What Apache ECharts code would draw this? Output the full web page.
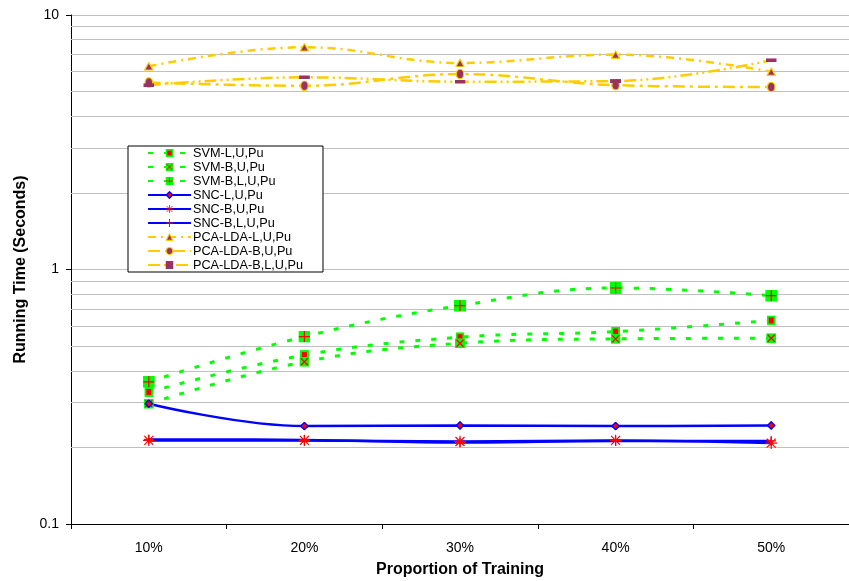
<!DOCTYPE html>
<html>
<head>
<meta charset="utf-8">
<script src="https://cdn.jsdelivr.net/npm/echarts@6/dist/echarts.min.js"></script>
<style>
  html, body { margin: 0; padding: 0; background: #fff; }
  #main { width: 849px; height: 581px; }
</style>
</head>
<body>
<div id="main"></div>
<script>
// data
const categories = ['10%', '20%', '30%', '40%', '50%']
const svmLUPu = [0.330, 0.461, 0.542, 0.570, 0.631]
const svmBUPu = [0.297, 0.434, 0.513, 0.534, 0.537]
const svmBLUPu = [0.362, 0.545, 0.721, 0.846, 0.789]
const sncLUPu = [0.297, 0.2425, 0.244, 0.2425, 0.244]
const sncBUPu = [0.213, 0.213, 0.211, 0.213, 0.208]
const sncBLUPu = [0.215, 0.214, 0.209, 0.212, 0.212]
const pcaLUPu = [6.29, 7.47, 6.48, 6.99, 5.99]
const pcaBUPu = [5.43, 5.27, 5.86, 5.30, 5.21]
const pcaBLUPu = [5.30, 5.69, 5.47, 5.50, 6.64]
// minor gridlines (Excel log axis)
const minorGrid = [0.2, 0.3, 0.4, 0.5, 0.6, 0.7, 0.8, 0.9, 2, 3, 4, 5, 6, 7, 8, 9]

const GREEN = '#00ff00'
const BLUE = '#0000ff'
const GOLD = '#ffcc00'
const PURPLE = '#993366'
const RED = '#ff0000'

function svgSym(w, h, body) {
  const s = '<svg xmlns="http://www.w3.org/2000/svg" width="' + w + '" height="' + h +
    '" viewBox="0 0 ' + w + ' ' + h + '">' + body + '</svg>'
  return 'image://data:image/svg+xml;charset=utf-8,' + encodeURIComponent(s)
}
const symSvmL = svgSym(9, 10, '<rect x="0" y="0" width="9" height="10" fill="' + GREEN + '"/><rect x="2" y="2" width="5" height="6" fill="' + RED + '"/>')
const symSvmB = svgSym(10, 10, '<rect x="0" y="0" width="10" height="10" fill="' + GREEN + '"/><path d="M1.5 1.5L8.5 8.5M8.5 1.5L1.5 8.5" stroke="' + RED + '" stroke-width="1.2"/>')
const symSvmBL = svgSym(12, 12, '<rect x="0" y="0" width="12" height="12" fill="' + GREEN + '"/><path d="M6 0.5V11.5M0.5 6H11.5" stroke="' + RED + '" stroke-width="1.2"/>')
const symSncL = svgSym(9, 9, '<path d="M4.5 0.8L8.2 4.5L4.5 8.2L0.8 4.5Z" fill="' + RED + '" stroke="' + BLUE + '" stroke-width="1.4"/>')
const symSncB = svgSym(12, 12, '<path d="M6 0V12M0 6H12M1.5 1.5L10.5 10.5M10.5 1.5L1.5 10.5" stroke="' + RED + '" stroke-width="1.2"/>')
const symSncBL = svgSym(10, 10, '<path d="M5 0V10M0 5H10" stroke="' + RED + '" stroke-width="1.2"/>')
const symPcaL = svgSym(10, 9, '<path d="M5 0.8L9.2 8.3H0.8Z" fill="' + PURPLE + '" stroke="' + GOLD + '" stroke-width="1.2"/>')
const symPcaB = svgSym(9, 11, '<ellipse cx="4.5" cy="5.5" rx="3.8" ry="4.8" fill="' + PURPLE + '" stroke="' + GOLD + '" stroke-width="1.2"/>')
const symPcaBL = svgSym(11, 4, '<rect x="0" y="0" width="11" height="4" fill="' + PURPLE + '"/>')

function mkSeries(name, data, color, type, width, symbol, size) {
  return {
    name: name,
    type: 'line',
    data: data,
    smooth: 0.4,
    symbol: symbol,
    symbolSize: size,
    showAllSymbol: true,
    z: 3,
    itemStyle: { color: color },
    lineStyle: { color: color, width: width, type: type },
    emphasis: { disabled: true },
  }
}

const chart = echarts.init(document.getElementById('main'))
const option = {
  animation: false,
  backgroundColor: '#fff',
  textStyle: { fontFamily: 'Arial, "Liberation Sans", sans-serif' },
  grid: { left: 71, right: 0, top: 15, bottom: 57, containLabel: false, outerBoundsMode: 'none' },
  legend: {
    orient: 'vertical',
    left: 128,
    top: 146,
    padding: [0, 20, 0, 19],
    itemGap: 0,
    itemWidth: 43,
    itemHeight: 10,
    borderColor: '#000',
    borderWidth: 1,
    backgroundColor: '#fff',
    z: 10,
    textStyle: { fontSize: 12.7, lineHeight: 14, color: '#000', padding: [0, 0, 0, -3] },
    data: ['SVM-L,U,Pu', 'SVM-B,U,Pu', 'SVM-B,L,U,Pu', 'SNC-L,U,Pu', 'SNC-B,U,Pu', 'SNC-B,L,U,Pu',
      'PCA-LDA-L,U,Pu', 'PCA-LDA-B,U,Pu', 'PCA-LDA-B,L,U,Pu'],
  },
  xAxis: {
    type: 'category',
    data: categories,
    boundaryGap: true,
    axisLine: { lineStyle: { color: '#000', width: 1 } },
    axisTick: { show: true, length: 5, lineStyle: { color: '#000' } },
    axisLabel: { color: '#000', fontSize: 14, margin: 17 },
    splitLine: { show: false },
    name: 'Proportion of Training',
    nameLocation: 'middle',
    nameGap: 38,
    nameTextStyle: { fontSize: 16, fontWeight: 'bold', color: '#000' },
  },
  yAxis: {
    type: 'log',
    logBase: 10,
    min: 0.1,
    max: 10,
    axisLine: { show: true, lineStyle: { color: '#000', width: 1 } },
    axisTick: { show: true, length: 5, lineStyle: { color: '#000' } },
    axisLabel: { color: '#000', fontSize: 14, margin: 12 },
    splitLine: { show: true, lineStyle: { color: '#c0c0c0', width: 1 } },
    name: 'Running Time (Seconds)',
    nameLocation: 'middle',
    nameRotate: 90,
    nameGap: 42,
    nameTextStyle: { fontSize: 16, fontWeight: 'bold', color: '#000' },
  },
  series: [
    {
      name: 'grid',
      type: 'line',
      data: [],
      silent: true,
      z: 1,
      markLine: {
        silent: true,
        z: 1,
        symbol: ['none', 'none'],
        label: { show: false },
        lineStyle: { color: '#c0c0c0', width: 1, type: 'solid' },
        emphasis: { disabled: true },
        data: minorGrid.map(v => ({ yAxis: v })),
      },
    },
    mkSeries('SVM-L,U,Pu', svmLUPu, GREEN, [5, 11], 3, symSvmL, [9, 10]),
    mkSeries('SVM-B,U,Pu', svmBUPu, GREEN, [5, 11], 3, symSvmB, 10),
    mkSeries('SVM-B,L,U,Pu', svmBLUPu, GREEN, [5, 11], 3, symSvmBL, 12),
    mkSeries('SNC-L,U,Pu', sncLUPu, BLUE, 'solid', 2.5, symSncL, 9),
    mkSeries('SNC-B,U,Pu', sncBUPu, BLUE, 'solid', 2.5, symSncB, 12),
    mkSeries('SNC-B,L,U,Pu', sncBLUPu, BLUE, 'solid', 2.5, symSncBL, 10),
    mkSeries('PCA-LDA-L,U,Pu', pcaLUPu, GOLD, [8, 5, 2, 5], 2.5, symPcaL, [10, 9]),
    mkSeries('PCA-LDA-B,U,Pu', pcaBUPu, GOLD, [12, 5, 3, 5], 2.5, symPcaB, [9, 11]),
    mkSeries('PCA-LDA-B,L,U,Pu', pcaBLUPu, GOLD, [12, 4, 2, 4, 2, 4], 2.5, symPcaBL, [11, 4]),
  ],
}
chart.setOption(option)
</script>
</body>
</html>
